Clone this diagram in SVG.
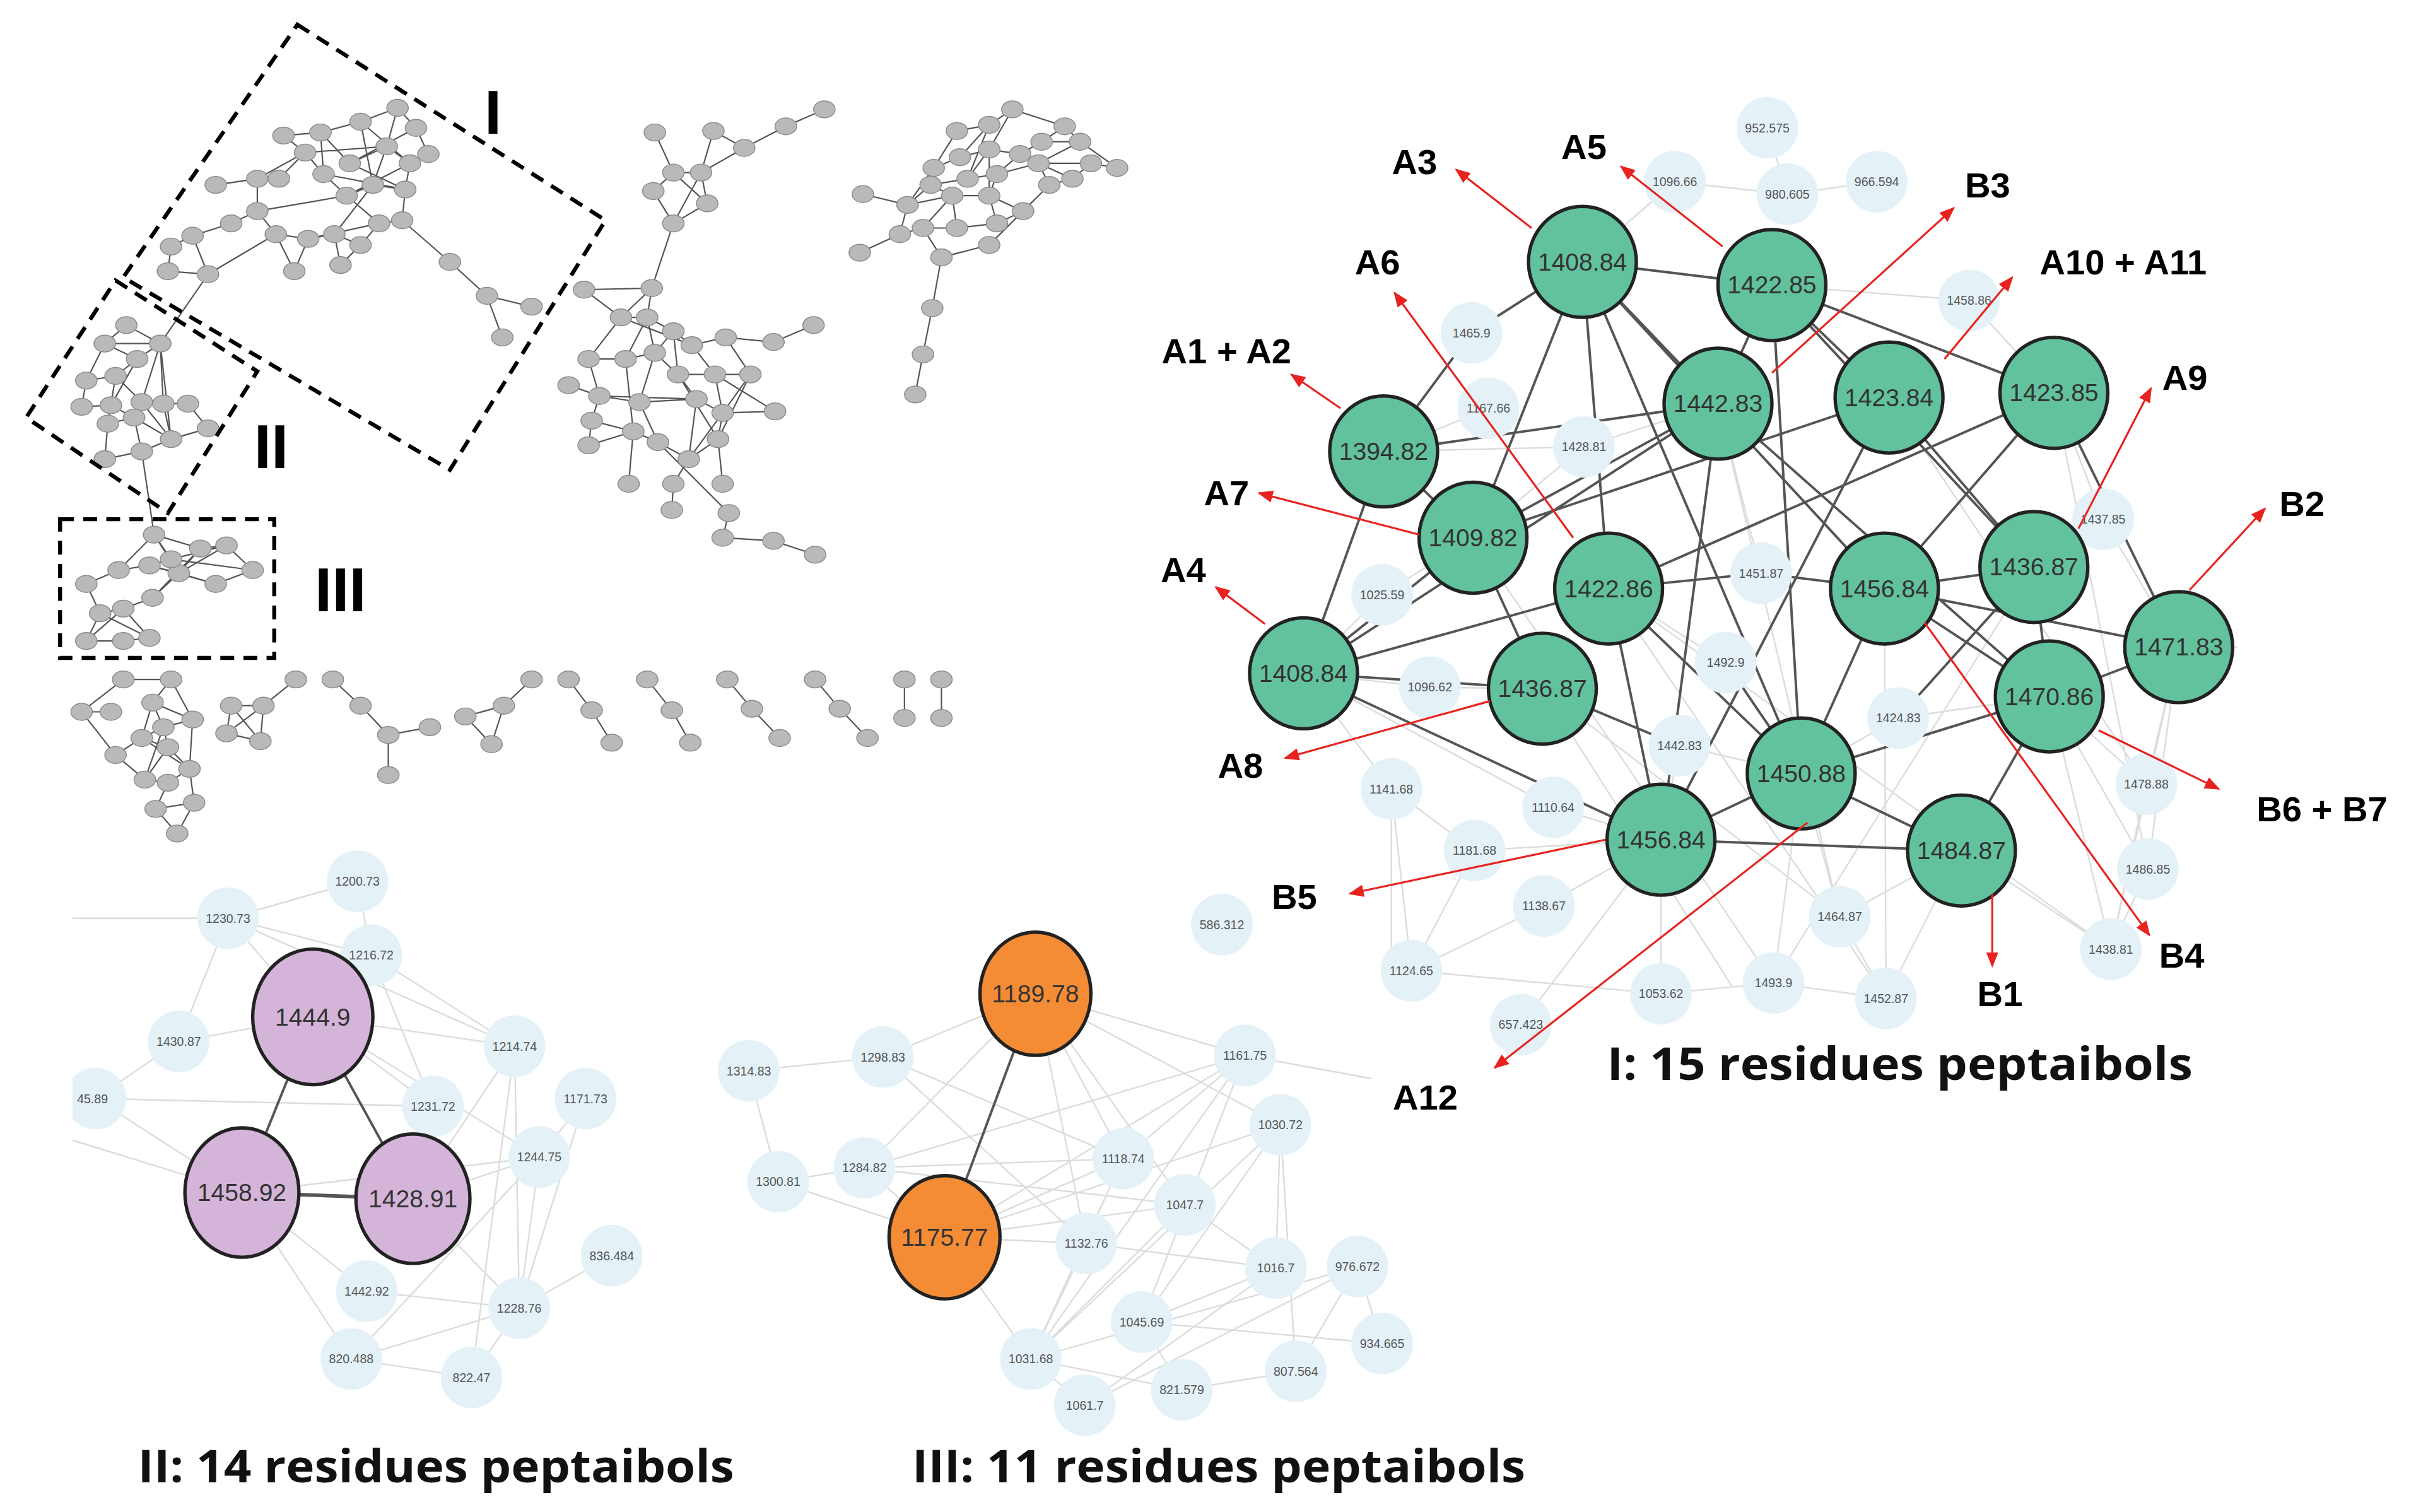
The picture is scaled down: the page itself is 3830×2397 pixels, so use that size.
<svg xmlns="http://www.w3.org/2000/svg" width="3830" height="2397" viewBox="0 0 3830 2397">
<style>
.bg{fill:#fff}
.dk{stroke:#555;stroke-width:1.6;fill:none}
.lt{stroke:#dcdcdc;stroke-width:1;fill:none}
.ov{stroke:#555;stroke-width:0.9;fill:none}
.gn{fill:#b9b9b9;stroke:#8c8c8c;stroke-width:0.6}
.G{fill:#62c29e;stroke:#222;stroke-width:2.2}
.P{fill:#d4b5d9;stroke:#222;stroke-width:2.2}
.O{fill:#f48c35;stroke:#222;stroke-width:2.2}
.s{fill:#e4f2f8}
.bl{font-family:"Liberation Sans",Arial,sans-serif;font-size:16px;fill:#333;text-anchor:middle;dominant-baseline:central}
.sl{font-family:"Liberation Sans",Arial,sans-serif;font-size:8px;fill:#555;text-anchor:middle;dominant-baseline:central}
.lab{font-family:"Liberation Sans",Arial,sans-serif;font-size:23px;font-weight:bold;fill:#000;text-anchor:middle;dominant-baseline:central}
.rom{font-family:"Liberation Sans",Arial,sans-serif;font-size:40px;font-weight:bold;fill:#000;text-anchor:middle;dominant-baseline:central}
.tt{font-family:"Open Sans","Liberation Sans",sans-serif;font-size:29px;font-weight:bold;fill:#111;text-anchor:middle}
.ar{stroke:#e8231f;stroke-width:1.3;fill:none;marker-end:url(#ah)}
.box{stroke:#000;stroke-width:2.6;fill:none;stroke-dasharray:9 6}
</style>
<defs>
<marker id="ah" markerUnits="userSpaceOnUse" markerWidth="10" markerHeight="8" refX="9" refY="4" orient="auto"><path d="M0,0 L10,4 L0,8 z" fill="#e8231f"/></marker>
<clipPath id="cl2"><rect x="47" y="540" width="400" height="400"/></clipPath>
</defs>
<rect class="bg" width="3830" height="2397"/>
<g transform="scale(2.4426)">
<g id="connectors">
<g class="ov">
<path d="M184,88 L208,86 L234,79 L258,70 L270,83 L278,100 L266,106 L263,123 L242,120 L225,127 L210,113 L198,99 L184,88 M208,86 L227,106 L251,95 L258,70 M234,79 L242,120 M198,99 L251,95 L266,106 M210,113 L263,123 M227,106 L270,83 M225,127 L278,100 M208,86 L210,113 M234,79 L266,106 M251,95 L242,120 M227,106 L263,123 M198,99 L167,116 L140,120 M181,116 L198,99 M167,116 L167,137 L150,145 L125,153 L111,160 L109,176 L135,178 L125,153 M167,137 L179,152 L200,155 L217,152 L234,159 L246,145 L261,143 L263,123 M179,152 L191,176 L200,155 M217,152 L221,172 L234,159 M246,145 L225,127 M135,178 L179,152 M261,143 L292,170 L316,192 L345,199 M316,192 L326,219 M167,137 L225,127 M200,155 L246,145 M217,152 L242,120 M135,178 L104,223"/>
<path d="M82,211 L104,223 L89,233 L68,223 L82,211 M68,223 L56,247 L75,244 L89,233 L72,263 L53,264 L56,247 M75,244 L92,261 L106,262 L122,262 L135,278 L111,285 L92,261 M104,223 L106,262 M104,223 L92,261 M70,275 L87,271 L111,285 L92,293 L68,298 L70,275 M72,263 L87,271 M87,271 L92,293 M106,262 L111,285 M75,244 L70,275 M104,223 L111,285 M68,223 L104,223 M92,293 L100,347"/>
<path d="M100,347 L77,370 L56,379 L65,398 L80,395 L99,388 L116,372 L130,356 L147,354 L164,370 L140,379 L116,372 M100,347 L130,356 L99,388 M100,347 L111,363 L97,367 L77,370 M111,363 L147,354 M97,367 L140,379 M111,363 L164,370 M116,372 L147,354 M97,367 L116,372 M65,398 L56,416 L80,416 L97,414 L80,395 L56,416 M65,398 L97,414 M99,388 L80,395 M100,347 L116,372"/>
<path d="M80,441 L111,441 L99,456 L125,467 L106,472 L92,479 L75,490 L53,462 L80,441 M53,462 L72,462 M111,441 L125,467 M99,456 L106,472 L109,485 L123,499 L109,508 L94,506 L75,490 M92,479 L109,485 M106,472 L94,506 M99,456 L92,479 L123,499 M125,467 L123,499 L126,521 L101,525 L115,541 L126,521 M109,508 L101,525 M94,506 L109,485"/>
<path d="M192,441 L171,458 L150,458 L147,476 L169,481 L171,458 M150,458 L169,481 M147,476 L171,458 M216,441 L234,458 L252,477 L279,472 M252,477 L252,503 M345,441 L327,458 L302,465 L319,483 L327,458 M369,441 L384,461 L397,482 M420,441 L436,461 L448,482 M472,441 L488,460 L506,479 M529,441 L545,460 L563,479 M587,441 L587,466 M611,441 L611,466"/>
<path d="M425,86 L437,112 M463,85 L483,96 L510,82 L535,71 M463,85 L455,112 M483,96 L455,112 M437,112 L455,112 L459,132 L437,145 L424,124 L437,112 M455,112 L437,145 M437,112 L459,132 M437,145 L423,187 L379,188 L403,206 L423,187 L420,206 M403,206 L420,206 L437,215 L449,224 L471,219 L502,222 L528,211 M382,233 L406,233 L425,229 L440,243 L464,243 L487,243 M369,250 L389,257 L415,261 L452,259 L469,268 L503,267 M384,273 L411,280 L427,287 L447,298 L466,285 L469,268 M382,289 L384,273 L389,257 L382,233 L403,206 M406,233 L420,206 L425,229 L437,215 L440,243 L452,259 M449,224 L464,243 L469,268 L487,243 L471,219 M415,261 L427,287 M411,280 L406,233 M440,243 L466,285 M452,259 L447,298 M425,229 L415,261 M464,243 L503,267 M469,268 L447,298 M487,243 L466,285 M411,280 L408,314 M447,298 L437,314 M466,285 L469,314 M427,287 L473,333 L469,349 L502,351 L529,360 M437,314 L436,331 M389,257 L452,259 M382,289 L411,280 M403,206 L449,224"/>
<path d="M621,85 L642,81 L657,71 L691,82 L701,92 L725,109 L708,106 L696,116 L681,120 L664,137 L647,145 L621,148 L599,148 L584,152 L589,133 L606,109 L621,85 M642,81 L623,102 L606,109 M657,71 L642,97 L662,100 L676,92 L691,82 M701,92 L674,106 L708,106 M676,92 L701,92 M623,102 L642,97 L628,116 L604,120 L589,133 L618,127 L642,127 L664,137 M628,116 L647,113 L674,106 L681,120 M647,113 L642,127 M662,100 L647,113 M618,127 L621,148 M642,127 L647,145 M599,148 L618,127 M560,126 L589,133 M584,152 L558,164 M599,148 L611,167 L642,159 L664,137 M611,167 L605,200 L599,230 L594,256 M642,81 L628,116 M662,100 L674,106 L696,116 M604,120 L618,127 M642,97 L642,127 M606,109 L604,120"/>
</g>
<g class="lt">
<path d="M1087,118 L1160,126 L1218,118 M1087,118 L1027,170 M1147,83 L1160,126 M1278,195 L1150,185 M1278,195 L1333,255 M1028,290 L898,293 M1028,290 L1115,262 M1028,290 L956,349 M966,265 L898,293 M1365,337 L1333,255 M1365,337 L1414,420 M1365,337 L1320,368 M1143,372 L1044,382 M1143,372 L1223,382 M1143,372 L1115,262 M897,386 L956,349 M897,386 L846,437 M1120,430 L1044,382 M1120,430 L1169,502 M928,446 L846,437 M928,446 L1001,447 M1232,466 L1169,502 M1232,466 L1330,452 M1090,484 L1001,447 M1090,484 L1169,502 M1090,484 L1078,545 M903,512 L846,437 M903,512 L957,552 M1008,524 L846,437 M1008,524 L1078,545 M1393,509 L1330,452 M1393,509 L1414,420 M1394,564 L1330,452 M1394,564 L1370,616 M957,552 L1078,545 M1002,588 L916,630 M1002,588 L1078,545 M1194,595 L1169,502 M1194,595 L1273,552 M916,630 L957,552 M916,630 L1078,645 M1370,616 L1330,452 M1370,616 L1414,420 M1151,638 L1078,645 M1151,638 L1224,648 M1151,638 L1169,502 M1224,648 L1273,552 M1078,645 L1078,545 M987,665 L1078,545 M916,630 L903,512 M1194,595 L1224,648 M1370,616 L1273,552 M1394,564 L1414,420 M1393,509 L1370,616 M903,512 L903,640 M1044,382 L1224,648 M956,349 L1151,638 M1115,262 L1194,595 M1001,447 L1194,595 M1226,258 L1393,509 M1333,255 L1394,564 M1223,382 L1224,648 M1044,382 L1370,616 M1320,368 L1151,638 M1414,420 L1452,420 M1001,447 L1124,640"/>
</g>
<g class="dk">
<path d="M1027,170 L1150,185 M1027,170 L955,216 L898,293 M1027,170 L956,349 M1027,170 L1044,382 M1027,170 L1115,262 M1027,170 L1223,382 M1027,170 L1169,502 M1150,185 L1115,262 M1150,185 L1226,258 M1150,185 L1333,255 M1150,185 L1169,502 M1150,185 L1320,368 M1115,262 L956,349 M1115,262 L898,293 M1115,262 L846,437 M1115,262 L1078,545 M1115,262 L1330,452 M1226,258 L956,349 M1226,258 L1320,368 M1226,258 L1078,545 M1333,255 L1414,420 M1333,255 L1223,382 M1333,255 L1044,382 M898,293 L956,349 M898,293 L846,437 M956,349 L846,437 M956,349 L1001,447 M1044,382 L1143,372 M1044,382 L846,437 M1044,382 L1078,545 M1044,382 L1169,502 M1223,382 L1320,368 M1223,382 L1330,452 M1223,382 L1169,502 M1223,382 L1414,420 M1320,368 L1330,452 M1320,368 L1232,466 M1414,420 L1330,452 M846,437 L1001,447 M846,437 L1078,545 M1001,447 L1090,484 M1330,452 L1169,502 M1330,452 L1273,552 M1169,502 L1078,545 M1169,502 L1273,552 M1078,545 L1273,552 M1169,502 L1120,430 M1143,372 L1223,382"/>
</g>
<g class="lt" clip-path="url(#cl2)">
<path d="M232,572 L148,596 L241,620 L232,572 M148,596 L203,660 M148,596 L334,679 M241,620 L203,660 M241,620 L334,679 M241,620 L281,718 M116,676 L203,660 M116,676 L62,713 M116,676 L148,596 M203,660 L334,679 M203,660 L281,718 M203,660 L350,751 M62,713 L281,718 M62,713 L157,774 M157,774 L350,751 M268,778 L350,751 M268,778 L334,679 M157,774 L238,838 M157,774 L228,882 M268,778 L337,849 M238,838 L337,849 M350,751 L337,849 M334,679 L337,849 M380,713 L350,751 M397,815 L337,849 M228,882 L337,849 M306,894 L337,849 M228,882 L306,894 M350,751 L228,882 M281,718 L268,778 M47,596 L148,596 M47,740 L157,774 M380,713 L337,849 M334,679 L306,894"/>
</g>
<g class="dk"><path d="M203,660 L157,774 M203,660 L268,778"/><path d="M157,774 L268,778" stroke-width="2.4"/></g>
<g class="lt">
<path d="M486,695 L573,686 M486,695 L505,767 M573,686 L672,645 M573,686 L729,752 M573,686 L705,807 M672,645 L808,685 M672,645 L831,730 M672,645 L729,752 M672,645 L705,807 M672,645 L769,782 M672,645 L561,758 M808,685 L890,700 M808,685 L561,758 M808,685 L613,803 M808,685 L669,882 M808,685 L741,858 M831,730 L613,803 M831,730 L669,882 M831,730 L741,858 M831,730 L828,823 M831,730 L841,890 M561,758 L729,752 M561,758 L769,782 M505,767 L613,803 M505,767 L561,758 M613,803 L729,752 M613,803 L705,807 M613,803 L769,782 M705,807 L828,823 M705,807 L669,882 M729,752 L669,882 M769,782 L828,823 M769,782 L669,882 M741,858 L828,823 M741,858 L897,872 M741,858 L767,902 M881,822 L669,882 M881,822 L841,890 M881,822 L897,872 M669,882 L704,912 M669,882 L767,902 M767,902 L841,890 M704,912 L881,822 M704,912 L828,823 M613,803 L669,882 M561,758 L613,803 M808,685 L729,752"/>
</g>
<g class="dk"><path d="M672,645 L613,803"/></g>
</g>
<g id="overview" class="gn">
<ellipse cx="184" cy="88" rx="7" ry="5.5"/><ellipse cx="208" cy="86" rx="7" ry="5.5"/><ellipse cx="234" cy="79" rx="7" ry="5.5"/><ellipse cx="258" cy="70" rx="7" ry="5.5"/><ellipse cx="270" cy="83" rx="7" ry="5.5"/><ellipse cx="278" cy="100" rx="7" ry="5.5"/><ellipse cx="198" cy="99" rx="7" ry="5.5"/><ellipse cx="210" cy="113" rx="7" ry="5.5"/><ellipse cx="227" cy="106" rx="7" ry="5.5"/><ellipse cx="251" cy="95" rx="7" ry="5.5"/><ellipse cx="266" cy="106" rx="7" ry="5.5"/><ellipse cx="263" cy="123" rx="7" ry="5.5"/><ellipse cx="225" cy="127" rx="7" ry="5.5"/><ellipse cx="242" cy="120" rx="7" ry="5.5"/><ellipse cx="140" cy="120" rx="7" ry="5.5"/><ellipse cx="167" cy="116" rx="7" ry="5.5"/><ellipse cx="181" cy="116" rx="7" ry="5.5"/><ellipse cx="167" cy="137" rx="7" ry="5.5"/><ellipse cx="150" cy="145" rx="7" ry="5.5"/><ellipse cx="179" cy="152" rx="7" ry="5.5"/><ellipse cx="200" cy="155" rx="7" ry="5.5"/><ellipse cx="217" cy="152" rx="7" ry="5.5"/><ellipse cx="234" cy="159" rx="7" ry="5.5"/><ellipse cx="246" cy="145" rx="7" ry="5.5"/><ellipse cx="261" cy="143" rx="7" ry="5.5"/><ellipse cx="125" cy="153" rx="7" ry="5.5"/><ellipse cx="111" cy="160" rx="7" ry="5.5"/><ellipse cx="109" cy="176" rx="7" ry="5.5"/><ellipse cx="135" cy="178" rx="7" ry="5.5"/><ellipse cx="191" cy="176" rx="7" ry="5.5"/><ellipse cx="221" cy="172" rx="7" ry="5.5"/><ellipse cx="292" cy="170" rx="7" ry="5.5"/><ellipse cx="316" cy="192" rx="7" ry="5.5"/><ellipse cx="345" cy="199" rx="7" ry="5.5"/><ellipse cx="326" cy="219" rx="7" ry="5.5"/>
<ellipse cx="82" cy="211" rx="7" ry="5.5"/><ellipse cx="68" cy="223" rx="7" ry="5.5"/><ellipse cx="104" cy="223" rx="7" ry="5.5"/><ellipse cx="89" cy="233" rx="7" ry="5.5"/><ellipse cx="56" cy="247" rx="7" ry="5.5"/><ellipse cx="75" cy="244" rx="7" ry="5.5"/><ellipse cx="53" cy="264" rx="7" ry="5.5"/><ellipse cx="72" cy="263" rx="7" ry="5.5"/><ellipse cx="92" cy="261" rx="7" ry="5.5"/><ellipse cx="106" cy="262" rx="7" ry="5.5"/><ellipse cx="122" cy="262" rx="7" ry="5.5"/><ellipse cx="70" cy="275" rx="7" ry="5.5"/><ellipse cx="87" cy="271" rx="7" ry="5.5"/><ellipse cx="111" cy="285" rx="7" ry="5.5"/><ellipse cx="135" cy="278" rx="7" ry="5.5"/><ellipse cx="68" cy="298" rx="7" ry="5.5"/><ellipse cx="92" cy="293" rx="7" ry="5.5"/>
<ellipse cx="100" cy="347" rx="7" ry="5.5"/><ellipse cx="77" cy="370" rx="7" ry="5.5"/><ellipse cx="56" cy="379" rx="7" ry="5.5"/><ellipse cx="99" cy="388" rx="7" ry="5.5"/><ellipse cx="116" cy="372" rx="7" ry="5.5"/><ellipse cx="130" cy="356" rx="7" ry="5.5"/><ellipse cx="147" cy="354" rx="7" ry="5.5"/><ellipse cx="164" cy="370" rx="7" ry="5.5"/><ellipse cx="140" cy="379" rx="7" ry="5.5"/><ellipse cx="65" cy="398" rx="7" ry="5.5"/><ellipse cx="80" cy="395" rx="7" ry="5.5"/><ellipse cx="56" cy="416" rx="7" ry="5.5"/><ellipse cx="80" cy="416" rx="7" ry="5.5"/><ellipse cx="97" cy="414" rx="7" ry="5.5"/><ellipse cx="111" cy="363" rx="7" ry="5.5"/><ellipse cx="97" cy="367" rx="7" ry="5.5"/>
<ellipse cx="80" cy="441" rx="7" ry="5.5"/><ellipse cx="111" cy="441" rx="7" ry="5.5"/><ellipse cx="53" cy="462" rx="7" ry="5.5"/><ellipse cx="72" cy="462" rx="7" ry="5.5"/><ellipse cx="99" cy="456" rx="7" ry="5.5"/><ellipse cx="125" cy="467" rx="7" ry="5.5"/><ellipse cx="106" cy="472" rx="7" ry="5.5"/><ellipse cx="92" cy="479" rx="7" ry="5.5"/><ellipse cx="75" cy="490" rx="7" ry="5.5"/><ellipse cx="109" cy="485" rx="7" ry="5.5"/><ellipse cx="123" cy="499" rx="7" ry="5.5"/><ellipse cx="94" cy="506" rx="7" ry="5.5"/><ellipse cx="109" cy="508" rx="7" ry="5.5"/><ellipse cx="126" cy="521" rx="7" ry="5.5"/><ellipse cx="101" cy="525" rx="7" ry="5.5"/><ellipse cx="115" cy="541" rx="7" ry="5.5"/>
<ellipse cx="192" cy="441" rx="7" ry="5.5"/><ellipse cx="171" cy="458" rx="7" ry="5.5"/><ellipse cx="150" cy="458" rx="7" ry="5.5"/><ellipse cx="147" cy="476" rx="7" ry="5.5"/><ellipse cx="169" cy="481" rx="7" ry="5.5"/>
<ellipse cx="216" cy="441" rx="7" ry="5.5"/><ellipse cx="234" cy="458" rx="7" ry="5.5"/><ellipse cx="252" cy="477" rx="7" ry="5.5"/><ellipse cx="279" cy="472" rx="7" ry="5.5"/><ellipse cx="252" cy="503" rx="7" ry="5.5"/>
<ellipse cx="345" cy="441" rx="7" ry="5.5"/><ellipse cx="327" cy="458" rx="7" ry="5.5"/><ellipse cx="302" cy="465" rx="7" ry="5.5"/><ellipse cx="319" cy="483" rx="7" ry="5.5"/>
<ellipse cx="369" cy="441" rx="7" ry="5.5"/><ellipse cx="384" cy="461" rx="7" ry="5.5"/><ellipse cx="397" cy="482" rx="7" ry="5.5"/><ellipse cx="420" cy="441" rx="7" ry="5.5"/><ellipse cx="436" cy="461" rx="7" ry="5.5"/><ellipse cx="448" cy="482" rx="7" ry="5.5"/><ellipse cx="472" cy="441" rx="7" ry="5.5"/><ellipse cx="488" cy="460" rx="7" ry="5.5"/><ellipse cx="506" cy="479" rx="7" ry="5.5"/><ellipse cx="529" cy="441" rx="7" ry="5.5"/><ellipse cx="545" cy="460" rx="7" ry="5.5"/><ellipse cx="563" cy="479" rx="7" ry="5.5"/><ellipse cx="587" cy="441" rx="7" ry="5.5"/><ellipse cx="587" cy="466" rx="7" ry="5.5"/><ellipse cx="611" cy="441" rx="7" ry="5.5"/><ellipse cx="611" cy="466" rx="7" ry="5.5"/>
<ellipse cx="425" cy="86" rx="7" ry="5.5"/><ellipse cx="463" cy="85" rx="7" ry="5.5"/><ellipse cx="483" cy="96" rx="7" ry="5.5"/><ellipse cx="510" cy="82" rx="7" ry="5.5"/><ellipse cx="535" cy="71" rx="7" ry="5.5"/><ellipse cx="437" cy="112" rx="7" ry="5.5"/><ellipse cx="455" cy="112" rx="7" ry="5.5"/><ellipse cx="424" cy="124" rx="7" ry="5.5"/><ellipse cx="459" cy="132" rx="7" ry="5.5"/><ellipse cx="437" cy="145" rx="7" ry="5.5"/><ellipse cx="423" cy="187" rx="7" ry="5.5"/><ellipse cx="379" cy="188" rx="7" ry="5.5"/><ellipse cx="528" cy="211" rx="7" ry="5.5"/><ellipse cx="502" cy="222" rx="7" ry="5.5"/><ellipse cx="403" cy="206" rx="7" ry="5.5"/><ellipse cx="420" cy="206" rx="7" ry="5.5"/><ellipse cx="437" cy="215" rx="7" ry="5.5"/><ellipse cx="449" cy="224" rx="7" ry="5.5"/><ellipse cx="471" cy="219" rx="7" ry="5.5"/><ellipse cx="382" cy="233" rx="7" ry="5.5"/><ellipse cx="406" cy="233" rx="7" ry="5.5"/><ellipse cx="425" cy="229" rx="7" ry="5.5"/><ellipse cx="440" cy="243" rx="7" ry="5.5"/><ellipse cx="464" cy="243" rx="7" ry="5.5"/><ellipse cx="487" cy="243" rx="7" ry="5.5"/><ellipse cx="369" cy="250" rx="7" ry="5.5"/><ellipse cx="389" cy="257" rx="7" ry="5.5"/><ellipse cx="415" cy="261" rx="7" ry="5.5"/><ellipse cx="452" cy="259" rx="7" ry="5.5"/><ellipse cx="469" cy="268" rx="7" ry="5.5"/><ellipse cx="503" cy="267" rx="7" ry="5.5"/><ellipse cx="384" cy="273" rx="7" ry="5.5"/><ellipse cx="411" cy="280" rx="7" ry="5.5"/><ellipse cx="427" cy="287" rx="7" ry="5.5"/><ellipse cx="447" cy="298" rx="7" ry="5.5"/><ellipse cx="466" cy="285" rx="7" ry="5.5"/><ellipse cx="382" cy="289" rx="7" ry="5.5"/><ellipse cx="408" cy="314" rx="7" ry="5.5"/><ellipse cx="437" cy="314" rx="7" ry="5.5"/><ellipse cx="469" cy="314" rx="7" ry="5.5"/><ellipse cx="436" cy="331" rx="7" ry="5.5"/><ellipse cx="473" cy="333" rx="7" ry="5.5"/><ellipse cx="469" cy="349" rx="7" ry="5.5"/><ellipse cx="502" cy="351" rx="7" ry="5.5"/><ellipse cx="529" cy="360" rx="7" ry="5.5"/>
<ellipse cx="621" cy="85" rx="7" ry="5.5"/><ellipse cx="642" cy="81" rx="7" ry="5.5"/><ellipse cx="657" cy="71" rx="7" ry="5.5"/><ellipse cx="691" cy="82" rx="7" ry="5.5"/><ellipse cx="701" cy="92" rx="7" ry="5.5"/><ellipse cx="725" cy="109" rx="7" ry="5.5"/><ellipse cx="708" cy="106" rx="7" ry="5.5"/><ellipse cx="696" cy="116" rx="7" ry="5.5"/><ellipse cx="606" cy="109" rx="7" ry="5.5"/><ellipse cx="623" cy="102" rx="7" ry="5.5"/><ellipse cx="642" cy="97" rx="7" ry="5.5"/><ellipse cx="662" cy="100" rx="7" ry="5.5"/><ellipse cx="676" cy="92" rx="7" ry="5.5"/><ellipse cx="674" cy="106" rx="7" ry="5.5"/><ellipse cx="604" cy="120" rx="7" ry="5.5"/><ellipse cx="628" cy="116" rx="7" ry="5.5"/><ellipse cx="647" cy="113" rx="7" ry="5.5"/><ellipse cx="681" cy="120" rx="7" ry="5.5"/><ellipse cx="560" cy="126" rx="7" ry="5.5"/><ellipse cx="589" cy="133" rx="7" ry="5.5"/><ellipse cx="618" cy="127" rx="7" ry="5.5"/><ellipse cx="642" cy="127" rx="7" ry="5.5"/><ellipse cx="664" cy="137" rx="7" ry="5.5"/><ellipse cx="584" cy="152" rx="7" ry="5.5"/><ellipse cx="599" cy="148" rx="7" ry="5.5"/><ellipse cx="621" cy="148" rx="7" ry="5.5"/><ellipse cx="647" cy="145" rx="7" ry="5.5"/><ellipse cx="558" cy="164" rx="7" ry="5.5"/><ellipse cx="611" cy="167" rx="7" ry="5.5"/><ellipse cx="642" cy="159" rx="7" ry="5.5"/><ellipse cx="605" cy="200" rx="7" ry="5.5"/><ellipse cx="599" cy="230" rx="7" ry="5.5"/><ellipse cx="594" cy="256" rx="7" ry="5.5"/>
</g>
<g id="boxes">
<polygon class="box" points="193,16 393,143 292,305 80,180"/>
<polygon class="box" points="75,182 167,241 109,333 17,271"/>
<rect class="box" x="39" y="337" width="139" height="90"/>
<text class="rom" x="320" y="73">I</text>
<text class="rom" x="176" y="290">II</text>
<text class="rom" x="221" y="383">III</text>
</g>
<g id="clusterI-small">
<g id="n952"><circle class="s" cx="1147" cy="83" r="20"/><text class="sl" x="1147" y="83">952.575</text></g>
<g id="n1096a"><circle class="s" cx="1087" cy="118" r="20"/><text class="sl" x="1087" y="118">1096.66</text></g>
<g id="n980"><circle class="s" cx="1160" cy="126" r="20"/><text class="sl" x="1160" y="126">980.605</text></g>
<g id="n966"><circle class="s" cx="1218" cy="118" r="20"/><text class="sl" x="1218" y="118">966.594</text></g>
<g id="n1465"><circle class="s" cx="955" cy="216" r="20"/><text class="sl" x="955" y="216">1465.9</text></g>
<g id="n1458"><circle class="s" cx="1278" cy="195" r="20"/><text class="sl" x="1278" y="195">1458.86</text></g>
<g id="n1167"><circle class="s" cx="966" cy="265" r="20"/><text class="sl" x="966" y="265">1167.66</text></g>
<g id="n1428"><circle class="s" cx="1028" cy="290" r="20"/><text class="sl" x="1028" y="290">1428.81</text></g>
<g id="n1437"><circle class="s" cx="1365" cy="337" r="20"/><text class="sl" x="1365" y="337">1437.85</text></g>
<g id="n1451"><circle class="s" cx="1143" cy="372" r="20"/><text class="sl" x="1143" y="372">1451.87</text></g>
<g id="n1025"><circle class="s" cx="897" cy="386" r="20"/><text class="sl" x="897" y="386">1025.59</text></g>
<g id="n1492"><circle class="s" cx="1120" cy="430" r="20"/><text class="sl" x="1120" y="430">1492.9</text></g>
<g id="n1096b"><circle class="s" cx="928" cy="446" r="20"/><text class="sl" x="928" y="446">1096.62</text></g>
<g id="n1424"><circle class="s" cx="1232" cy="466" r="20"/><text class="sl" x="1232" y="466">1424.83</text></g>
<g id="n1442s"><circle class="s" cx="1090" cy="484" r="20"/><text class="sl" x="1090" y="484">1442.83</text></g>
<g id="n1141"><circle class="s" cx="903" cy="512" r="20"/><text class="sl" x="903" y="512">1141.68</text></g>
<g id="n1110"><circle class="s" cx="1008" cy="524" r="20"/><text class="sl" x="1008" y="524">1110.64</text></g>
<g id="n1478"><circle class="s" cx="1393" cy="509" r="20"/><text class="sl" x="1393" y="509">1478.88</text></g>
<g id="n1181"><circle class="s" cx="957" cy="552" r="20"/><text class="sl" x="957" y="552">1181.68</text></g>
<g id="n1486"><circle class="s" cx="1394" cy="564" r="20"/><text class="sl" x="1394" y="564">1486.85</text></g>
<g id="n1138"><circle class="s" cx="1002" cy="588" r="20"/><text class="sl" x="1002" y="588">1138.67</text></g>
<g id="n586"><circle class="s" cx="793" cy="600" r="20"/><text class="sl" x="793" y="600">586.312</text></g>
<g id="n1464"><circle class="s" cx="1194" cy="595" r="20"/><text class="sl" x="1194" y="595">1464.87</text></g>
<g id="n1124"><circle class="s" cx="916" cy="630" r="20"/><text class="sl" x="916" y="630">1124.65</text></g>
<g id="n1438"><circle class="s" cx="1370" cy="616" r="20"/><text class="sl" x="1370" y="616">1438.81</text></g>
<g id="n1493"><circle class="s" cx="1151" cy="638" r="20"/><text class="sl" x="1151" y="638">1493.9</text></g>
<g id="n1053"><circle class="s" cx="1078" cy="645" r="20"/><text class="sl" x="1078" y="645">1053.62</text></g>
<g id="n1452"><circle class="s" cx="1224" cy="648" r="20"/><text class="sl" x="1224" y="648">1452.87</text></g>
<g id="n657"><circle class="s" cx="987" cy="665" r="20"/><text class="sl" x="987" y="665">657.423</text></g>
</g>
<g id="clusterI-big">
<g id="g1"><ellipse class="G" cx="1027" cy="170" rx="35" ry="36"/><text class="bl" x="1027" y="170">1408.84</text></g>
<g id="g2"><ellipse class="G" cx="1150" cy="185" rx="35" ry="36"/><text class="bl" x="1150" y="185">1422.85</text></g>
<g id="g3"><ellipse class="G" cx="1115" cy="262" rx="35" ry="36"/><text class="bl" x="1115" y="262">1442.83</text></g>
<g id="g4"><ellipse class="G" cx="1226" cy="258" rx="35" ry="36"/><text class="bl" x="1226" y="258">1423.84</text></g>
<g id="g5"><ellipse class="G" cx="1333" cy="255" rx="35" ry="36"/><text class="bl" x="1333" y="255">1423.85</text></g>
<g id="g6"><ellipse class="G" cx="898" cy="293" rx="35" ry="36"/><text class="bl" x="898" y="293">1394.82</text></g>
<g id="g7"><ellipse class="G" cx="956" cy="349" rx="35" ry="36"/><text class="bl" x="956" y="349">1409.82</text></g>
<g id="g8"><ellipse class="G" cx="1044" cy="382" rx="35" ry="36"/><text class="bl" x="1044" y="382">1422.86</text></g>
<g id="g9"><ellipse class="G" cx="1223" cy="382" rx="35" ry="36"/><text class="bl" x="1223" y="382">1456.84</text></g>
<g id="g10"><ellipse class="G" cx="1320" cy="368" rx="35" ry="36"/><text class="bl" x="1320" y="368">1436.87</text></g>
<g id="g11"><ellipse class="G" cx="1414" cy="420" rx="35" ry="36"/><text class="bl" x="1414" y="420">1471.83</text></g>
<g id="g12"><ellipse class="G" cx="846" cy="437" rx="35" ry="36"/><text class="bl" x="846" y="437">1408.84</text></g>
<g id="g13"><ellipse class="G" cx="1001" cy="447" rx="35" ry="36"/><text class="bl" x="1001" y="447">1436.87</text></g>
<g id="g14"><ellipse class="G" cx="1330" cy="452" rx="35" ry="36"/><text class="bl" x="1330" y="452">1470.86</text></g>
<g id="g15"><ellipse class="G" cx="1169" cy="502" rx="35" ry="36"/><text class="bl" x="1169" y="502">1450.88</text></g>
<g id="g16"><ellipse class="G" cx="1078" cy="545" rx="35" ry="36"/><text class="bl" x="1078" y="545">1456.84</text></g>
<g id="g17"><ellipse class="G" cx="1273" cy="552" rx="35" ry="36"/><text class="bl" x="1273" y="552">1484.87</text></g>
</g>
<g id="arrows">
<line class="ar" x1="994" y1="148" x2="945" y2="110"/>
<line class="ar" x1="1118" y1="160" x2="1052" y2="108"/>
<line class="ar" x1="1150" y1="242" x2="1268" y2="135"/>
<line class="ar" x1="1021" y1="349" x2="905" y2="190"/>
<line class="ar" x1="1262" y1="233" x2="1306" y2="180"/>
<line class="ar" x1="870" y1="265" x2="838" y2="243"/>
<line class="ar" x1="1349" y1="343" x2="1396" y2="252"/>
<line class="ar" x1="921" y1="347" x2="817" y2="320"/>
<line class="ar" x1="1421" y1="383" x2="1470" y2="330"/>
<line class="ar" x1="821" y1="405" x2="789" y2="381"/>
<line class="ar" x1="967" y1="455" x2="834" y2="492"/>
<line class="ar" x1="1362" y1="474" x2="1440" y2="512"/>
<line class="ar" x1="1042" y1="545" x2="876" y2="580"/>
<line class="ar" x1="1249" y1="404" x2="1395" y2="607"/>
<line class="ar" x1="1293" y1="580" x2="1293" y2="627"/>
<line class="ar" x1="1173" y1="534" x2="970" y2="693"/>
</g>
<g id="labels">
<text class="lab" x="918" y="105">A3</text>
<text class="lab" x="1028" y="95">A5</text>
<text class="lab" x="1290" y="120">B3</text>
<text class="lab" x="894" y="170">A6</text>
<text class="lab" x="1378" y="170">A10 + A11</text>
<text class="lab" x="796" y="228">A1 + A2</text>
<text class="lab" x="1418" y="245">A9</text>
<text class="lab" x="796" y="320">A7</text>
<text class="lab" x="1494" y="327">B2</text>
<text class="lab" x="768" y="370">A4</text>
<text class="lab" x="805" y="497">A8</text>
<text class="lab" x="1507" y="525">B6 + B7</text>
<text class="lab" x="840" y="582">B5</text>
<text class="lab" x="1416" y="620">B4</text>
<text class="lab" x="1298" y="645">B1</text>
<text class="lab" x="925" y="712">A12</text>
</g>
<g id="clusterII">
<g id="s1200"><circle class="s" cx="232" cy="572" r="20"/><text class="sl" x="232" y="572">1200.73</text></g>
<g id="s1230"><circle class="s" cx="148" cy="596" r="20"/><text class="sl" x="148" y="596">1230.73</text></g>
<g id="s1216"><circle class="s" cx="241" cy="620" r="20"/><text class="sl" x="241" y="620">1216.72</text></g>
<g id="s1430"><circle class="s" cx="116" cy="676" r="20"/><text class="sl" x="116" y="676">1430.87</text></g>
<g id="s1214"><circle class="s" cx="334" cy="679" r="20"/><text class="sl" x="334" y="679">1214.74</text></g>
<g id="s1171"><circle class="s" cx="380" cy="713" r="20"/><text class="sl" x="380" y="713">1171.73</text></g>
<g id="s1345"><circle class="s" cx="62" cy="713" r="20" clip-path="url(#cl2)"/><text class="sl" x="50" y="713" text-anchor="start" style="text-anchor:start">45.89</text></g>
<g id="s1231"><circle class="s" cx="281" cy="718" r="20"/><text class="sl" x="281" y="718">1231.72</text></g>
<g id="s1244"><circle class="s" cx="350" cy="751" r="20"/><text class="sl" x="350" y="751">1244.75</text></g>
<g id="s836"><circle class="s" cx="397" cy="815" r="20"/><text class="sl" x="397" y="815">836.484</text></g>
<g id="s1442"><circle class="s" cx="238" cy="838" r="20"/><text class="sl" x="238" y="838">1442.92</text></g>
<g id="s1228"><circle class="s" cx="337" cy="849" r="20"/><text class="sl" x="337" y="849">1228.76</text></g>
<g id="s820"><circle class="s" cx="228" cy="882" r="20"/><text class="sl" x="228" y="882">820.488</text></g>
<g id="s822"><circle class="s" cx="306" cy="894" r="20"/><text class="sl" x="306" y="894">822.47</text></g>
<g id="p1"><ellipse class="P" cx="203" cy="660" rx="39" ry="44"/><text class="bl" x="203" y="660">1444.9</text></g>
<g id="p2"><ellipse class="P" cx="157" cy="774" rx="37" ry="42"/><text class="bl" x="157" y="774">1458.92</text></g>
<g id="p3"><ellipse class="P" cx="268" cy="778" rx="37" ry="42"/><text class="bl" x="268" y="778">1428.91</text></g>
</g>
<g id="clusterIII">
<g id="t1314"><circle class="s" cx="486" cy="695" r="20"/><text class="sl" x="486" y="695">1314.83</text></g>
<g id="t1298"><circle class="s" cx="573" cy="686" r="20"/><text class="sl" x="573" y="686">1298.83</text></g>
<g id="t1161"><circle class="s" cx="808" cy="685" r="20"/><text class="sl" x="808" y="685">1161.75</text></g>
<g id="t1030"><circle class="s" cx="831" cy="730" r="20"/><text class="sl" x="831" y="730">1030.72</text></g>
<g id="t1284"><circle class="s" cx="561" cy="758" r="20"/><text class="sl" x="561" y="758">1284.82</text></g>
<g id="t1300"><circle class="s" cx="505" cy="767" r="20"/><text class="sl" x="505" y="767">1300.81</text></g>
<g id="t1118"><circle class="s" cx="729" cy="752" r="20"/><text class="sl" x="729" y="752">1118.74</text></g>
<g id="t1047"><circle class="s" cx="769" cy="782" r="20"/><text class="sl" x="769" y="782">1047.7</text></g>
<g id="t1132"><circle class="s" cx="705" cy="807" r="20"/><text class="sl" x="705" y="807">1132.76</text></g>
<g id="t1016"><circle class="s" cx="828" cy="823" r="20"/><text class="sl" x="828" y="823">1016.7</text></g>
<g id="t976"><circle class="s" cx="881" cy="822" r="20"/><text class="sl" x="881" y="822">976.672</text></g>
<g id="t1045"><circle class="s" cx="741" cy="858" r="20"/><text class="sl" x="741" y="858">1045.69</text></g>
<g id="t934"><circle class="s" cx="897" cy="872" r="20"/><text class="sl" x="897" y="872">934.665</text></g>
<g id="t1031"><circle class="s" cx="669" cy="882" r="20"/><text class="sl" x="669" y="882">1031.68</text></g>
<g id="t807"><circle class="s" cx="841" cy="890" r="20"/><text class="sl" x="841" y="890">807.564</text></g>
<g id="t821"><circle class="s" cx="767" cy="902" r="20"/><text class="sl" x="767" y="902">821.579</text></g>
<g id="t1061"><circle class="s" cx="704" cy="912" r="20"/><text class="sl" x="704" y="912">1061.7</text></g>
<g id="o1"><ellipse class="O" cx="672" cy="645" rx="36" ry="40"/><text class="bl" x="672" y="645">1189.78</text></g>
<g id="o2"><ellipse class="O" cx="613" cy="803" rx="36" ry="40"/><text class="bl" x="613" y="803">1175.77</text></g>
</g>
<g id="titles">
<text class="tt" x="1233" y="701" textLength="380" lengthAdjust="spacingAndGlyphs">I: 15 residues peptaibols</text>
<text class="tt" x="283" y="962" textLength="387" lengthAdjust="spacingAndGlyphs">II: 14 residues peptaibols</text>
<text class="tt" x="791" y="962" textLength="398" lengthAdjust="spacingAndGlyphs">III: 11 residues peptaibols</text>
</g>
</g>
</svg>
